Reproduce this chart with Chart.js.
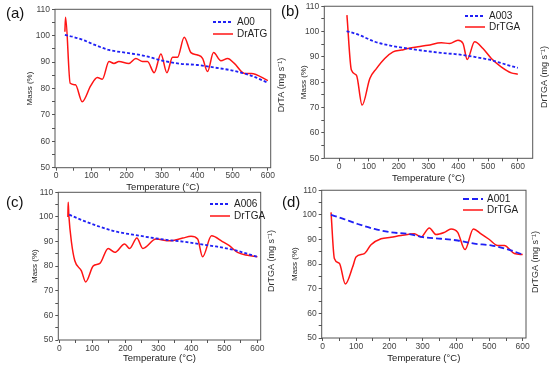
<html>

<head>
    <title>TGA / DrTGA curves</title>
    <script src="https://cdn.jsdelivr.net/npm/chart.js"></script>
    <style>
        body { margin: 0; background: #fff; width: 550px; height: 368px; position: relative; overflow: hidden; }
        canvas { position: absolute; }
    </style>
</head>

<body>
    <canvas id="chartA" width="292" height="196" style="left:0px;top:0px"></canvas>
    <canvas id="chartB" width="275" height="190" style="left:275px;top:0px"></canvas>
    <canvas id="chartC" width="292" height="184" style="left:0px;top:184px"></canvas>
    <canvas id="chartD" width="275" height="184" style="left:275px;top:184px"></canvas>

    <script type="text/javascript">

        // tick values
        var xTicks = [0, 50, 100, 150, 200, 250, 300, 350, 400, 450, 500, 550, 600];
        var yTicks = [50, 55, 60, 65, 70, 75, 80, 85, 90, 95, 100, 105, 110];

        // (a) A00 / DrATG
        var aMassT = [25, 50, 80, 110, 150, 200, 250, 300, 350, 400, 450, 500, 550, 600];
        var aMass = [100.3, 99.5, 98.2, 96.5, 94.6, 93.5, 92.4, 90.6, 89.4, 88.9, 87.9, 86.8, 85.0, 82.2];
        var aDrT = [25, 27, 40, 55, 74, 98, 117, 131, 150, 164, 178, 206, 226, 245, 259, 278, 297, 314, 330, 344, 363, 382, 401, 415, 429, 446, 467, 486, 505, 534, 553, 600];
        var aDr = [101.5, 107, 82, 81.4, 75, 81, 84.2, 83.5, 90.2, 89.5, 90.2, 89.5, 91.4, 90.2, 90.2, 86, 93.1, 86, 91.8, 91.8, 99.4, 93.6, 92.7, 91.4, 86.4, 93.6, 90.5, 91.4, 89.5, 85.7, 85.7, 83];

        // (b) A003 / DrTGA
        var bMassT = [25, 64, 120, 175, 231, 287, 343, 399, 455, 511, 566, 600];
        var bMass = [100.2, 98.8, 96, 94.4, 93.3, 92.4, 91.6, 91, 90, 88.7, 86.8, 85.7];
        var bDrT = [26, 41, 58, 77, 103, 125, 153, 181, 209, 231, 265, 298, 343, 371, 399, 416, 430, 455, 483, 511, 544, 578, 600];
        var bDr = [106.5, 84.8, 82.8, 71, 81.5, 85.4, 89.4, 92, 92.7, 93.3, 94, 94.6, 95.6, 95.3, 96.6, 95.3, 89, 96, 93.3, 89.4, 86.1, 83.7, 83.2];

        // (c) A006 / DrTGA
        var cMassT = [30, 72, 123, 173, 223, 273, 324, 374, 424, 474, 525, 600];
        var cMass = [100.9, 98.5, 96, 94, 92.8, 91.7, 90.7, 90, 89, 88, 86.7, 83.8];
        var cDrT = [26, 27, 29, 37, 47, 67, 80, 103, 123, 148, 168, 198, 213, 235, 253, 293, 334, 374, 399, 419, 434, 461, 494, 515, 540, 565, 600];
        var cDr = [100, 106, 100.5, 89.6, 82.2, 78.1, 73.6, 80.1, 81.1, 87.2, 85.6, 89, 87.2, 91.4, 87.2, 91, 90.3, 91.4, 92.1, 91, 83.8, 92.3, 90, 88.3, 85.6, 84.5, 83.8];

        // (d) A001 / DrTGA
        var dMassT = [25, 60, 105, 155, 205, 255, 305, 355, 405, 455, 505, 555, 600];
        var dMass = [100, 98.5, 96.3, 94.3, 92.9, 92.3, 90.9, 90.3, 89.6, 88.3, 87.6, 86, 83.9];
        var dDrT = [25, 35, 50, 68, 90, 100, 125, 145, 175, 205, 235, 275, 295, 320, 340, 365, 385, 405, 427, 452, 475, 500, 525, 545, 575, 600];
        var dDr = [101, 82.3, 80.3, 71.9, 78.9, 82.9, 84.3, 87.9, 90.3, 90.9, 91.6, 92.3, 91, 94.7, 92, 92.9, 94.3, 92.9, 85.9, 94.3, 92.3, 90, 87.6, 87.6, 84.3, 83.9];

        var BLUE = '#2020f5';
        var RED = '#ff1414';
        var FONT = '"Liberation Sans", Arial, sans-serif';

        Chart.defaults.font.family = FONT;

        function pairs(xs, ys) {
            return xs.map(function (x, i) { return { x: x, y: ys[i] }; });
        }

        // frame, in-plot legend, panel letter and right axis title
        var panelDeco = {
            id: 'panelDeco',
            afterDraw: function (chart, args, opts) {
                const ctx = chart.ctx;
                const a = chart.chartArea;
                ctx.save();
                ctx.strokeStyle = '#555';
                ctx.lineWidth = 1;
                ctx.strokeRect(a.left, a.top, a.right - a.left, a.bottom - a.top);

                // legend
                chart.data.datasets.forEach(function (ds, i) {
                    var y = opts.legY + i * opts.legGap;
                    ctx.beginPath();
                    ctx.setLineDash(ds.borderDash || []);
                    ctx.strokeStyle = ds.borderColor;
                    ctx.lineWidth = ds.borderWidth;
                    ctx.moveTo(opts.legX, y);
                    ctx.lineTo(opts.legX + 20, y);
                    ctx.stroke();
                    ctx.setLineDash([]);
                    ctx.fillStyle = '#222';
                    ctx.font = '10px ' + FONT;
                    ctx.textBaseline = 'middle';
                    ctx.textAlign = 'left';
                    ctx.fillText(ds.label, opts.legX + 24, y);
                });

                ctx.fillStyle = '#111';
                ctx.font = '15px ' + FONT;
                ctx.textBaseline = 'top';
                ctx.fillText(opts.letter, opts.letX, opts.letY);

                ctx.translate(opts.rtX, opts.rtY);
                ctx.rotate(-Math.PI / 2);
                ctx.textAlign = 'center';
                ctx.textBaseline = 'middle';
                ctx.font = '9px ' + FONT;
                ctx.fillStyle = '#333';
                ctx.fillText(opts.rightTitle, 0, 0);
                ctx.restore();
            }
        };

        function makePanel(id, p) {
            return new Chart(document.getElementById(id), {
                type: 'line',
                data: {
                    datasets: [
                        {
                            label: p.massLabel,
                            data: pairs(p.massT, p.mass),
                            borderColor: BLUE,
                            borderDash: p.dash,
                            borderWidth: 1.8,
                            pointRadius: 0,
                            cubicInterpolationMode: 'monotone'
                        },
                        {
                            label: p.drLabel,
                            data: pairs(p.drT, p.dr),
                            borderColor: RED,
                            borderWidth: 1.5,
                            pointRadius: 0,
                            cubicInterpolationMode: 'monotone'
                        }
                    ]
                },
                options: {
                    responsive: false,
                    animation: false,
                    layout: { padding: { top: p.padTop, right: p.padRight, left: 0, bottom: 0 } },
                    plugins: {
                        legend: { display: false },
                        tooltip: { enabled: false },
                        panelDeco: p.deco
                    },
                    scales: {
                        x: {
                            type: 'linear',
                            min: p.xMin,
                            max: p.xMax,
                            afterBuildTicks: function (s) { s.ticks = xTicks.map(function (v) { return { value: v }; }); },
                            afterFit: function (s) { s.height = p.xHeight; },
                            border: { display: false },
                            grid: { drawOnChartArea: false, tickLength: 3, tickColor: '#555' },
                            ticks: {
                                autoSkip: false, maxRotation: 0, padding: 1,
                                color: '#444', font: { size: 8.5, lineHeight: 1 },
                                callback: function (v) { return v % 100 === 0 ? v : ''; }
                            },
                            title: {
                                display: true, text: 'Temperature (°C)', color: '#222',
                                font: { size: 9.5 }, padding: { top: 0, bottom: p.xTitlePad }
                            }
                        },
                        y: {
                            min: 50,
                            max: 110,
                            afterBuildTicks: function (s) { s.ticks = yTicks.map(function (v) { return { value: v }; }); },
                            afterFit: function (s) { s.width = p.yWidth; },
                            border: { display: false },
                            grid: { drawOnChartArea: false, tickLength: 3, tickColor: '#555' },
                            ticks: {
                                autoSkip: false, padding: 2,
                                color: '#444', font: { size: 8.5, lineHeight: 1 },
                                callback: function (v) { return v % 10 === 0 ? v : ''; }
                            },
                            title: {
                                display: true, text: 'Mass (%)', color: '#222',
                                font: { size: 8 }, padding: { top: p.yTitlePad, bottom: 0 }
                            }
                        }
                    }
                },
                plugins: [panelDeco]
            });
        }

        makePanel('chartA', {
            massLabel: 'A00', drLabel: 'DrATG', massT: aMassT, mass: aMass, drT: aDrT, dr: aDr,
            dash: [3, 2], xMin: -3, xMax: 608,
            padTop: 9.3, padRight: 21.3, xHeight: 28.3, yWidth: 55, xTitlePad: 2.6, yTitlePad: 25.2,
            deco: { legX: 213, legY: 22, legGap: 12, letter: '(a)', letX: 6, letY: 6, rtX: 282, rtY: 85, rightTitle: 'DrTA (mg s⁻¹)' }
        });

        makePanel('chartB', {
            massLabel: 'A003', drLabel: 'DrTGA', massT: bMassT, mass: bMass, drT: bDrT, dr: bDr,
            dash: [3, 2], xMin: -50, xMax: 650,
            padTop: 6, padRight: 17.3, xHeight: 31.7, yWidth: 49.3, xTitlePad: 6.3, yTitlePad: 24.2,
            deco: { legX: 190, legY: 16, legGap: 11, letter: '(b)', letX: 6, letY: 4, rtX: 270, rtY: 77, rightTitle: 'DrTGA (mg s⁻¹)' }
        });

        makePanel('chartC', {
            massLabel: 'A006', drLabel: 'DrTGA', massT: cMassT, mass: cMass, drT: cDrT, dr: cDr,
            dash: [3, 2], xMin: -3, xMax: 610,
            padTop: 8.3, padRight: 31.3, xHeight: 28, yWidth: 58.3, xTitlePad: 4.3, yTitlePad: 30.2,
            deco: { legX: 210, legY: 20, legGap: 12, letter: '(c)', letX: 6, letY: 11, rtX: 272, rtY: 77, rightTitle: 'DrTGA (mg s⁻¹)' }
        });

        makePanel('chartD', {
            massLabel: 'A001', drLabel: 'DrTGA', massT: dMassT, mass: dMass, drT: dDrT, dr: dDr,
            dash: [6, 3], xMin: -3, xMax: 610,
            padTop: 4, padRight: 24, xHeight: 30, yWidth: 46.7, xTitlePad: 4.3, yTitlePad: 15.2,
            deco: { legX: 188, legY: 15, legGap: 11, letter: '(d)', letX: 7, letY: 11, rtX: 261, rtY: 78, rightTitle: 'DrTGA (mg s⁻¹)' }
        });

    </script>
</body>

</html>
